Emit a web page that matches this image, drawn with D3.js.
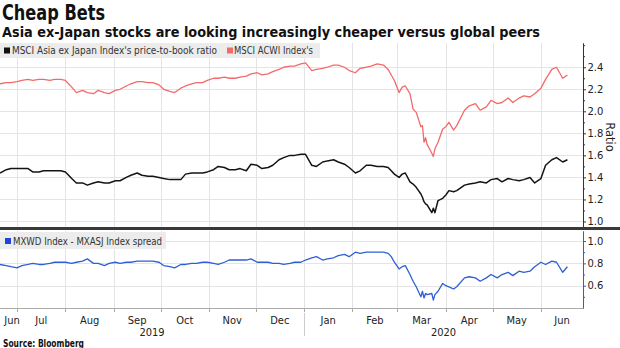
<!DOCTYPE html>
<html>
<head>
<meta charset="utf-8">
<script src="https://cdn.jsdelivr.net/npm/d3@7"></script>
<style>
  body { margin: 0; background: #fff; }
  svg { display: block; }
  text { font-family: "DejaVu Sans Condensed", "DejaVu Sans", sans-serif; fill: #222; }
</style>
</head>
<body>
<script>
// dates sampled twice a week, daily-ish through the March sell-off
const dates = [
  "2019-06-20","2019-06-24","2019-06-27",
  "2019-07-01","2019-07-04","2019-07-08","2019-07-11","2019-07-15","2019-07-18","2019-07-22","2019-07-25","2019-07-29",
  "2019-08-01","2019-08-05","2019-08-08","2019-08-12","2019-08-15","2019-08-19","2019-08-22","2019-08-26","2019-08-29",
  "2019-09-02","2019-09-05","2019-09-09","2019-09-12","2019-09-16","2019-09-19","2019-09-23","2019-09-26","2019-09-30",
  "2019-10-03","2019-10-07","2019-10-10","2019-10-14","2019-10-17","2019-10-21","2019-10-24","2019-10-28","2019-10-31",
  "2019-11-04","2019-11-07","2019-11-11","2019-11-14","2019-11-18","2019-11-21","2019-11-25","2019-11-28",
  "2019-12-02","2019-12-05","2019-12-09","2019-12-12","2019-12-16","2019-12-19","2019-12-23","2019-12-26","2019-12-30",
  "2020-01-02","2020-01-06","2020-01-09","2020-01-13","2020-01-16","2020-01-20","2020-01-23","2020-01-27","2020-01-30",
  "2020-02-03","2020-02-06","2020-02-10","2020-02-13","2020-02-17","2020-02-21","2020-02-24","2020-02-26","2020-02-28",
  "2020-03-02","2020-03-04","2020-03-06","2020-03-09","2020-03-11","2020-03-13","2020-03-16","2020-03-17","2020-03-18",
  "2020-03-19","2020-03-20","2020-03-23","2020-03-24","2020-03-25","2020-03-27","2020-03-30",
  "2020-04-01","2020-04-03","2020-04-06","2020-04-08","2020-04-13","2020-04-16","2020-04-20","2020-04-23","2020-04-27","2020-04-30",
  "2020-05-04","2020-05-07","2020-05-11","2020-05-14","2020-05-18","2020-05-21","2020-05-25","2020-05-28",
  "2020-06-01","2020-06-04","2020-06-08","2020-06-11","2020-06-15","2020-06-18"
];

// MSCI ACWI price-to-book
const acwiPB = [
  2.25, 2.26, 2.26,
  2.27, 2.28, 2.29, 2.28, 2.29, 2.29, 2.28, 2.29, 2.29,
  2.28, 2.22, 2.17, 2.19, 2.17, 2.16, 2.19, 2.17, 2.16,
  2.19, 2.20, 2.23, 2.25, 2.27, 2.27, 2.26, 2.26, 2.24,
  2.20, 2.18, 2.17, 2.21, 2.23, 2.25, 2.26, 2.26, 2.28,
  2.30, 2.30, 2.31, 2.30, 2.30, 2.31, 2.32, 2.34,
  2.35, 2.33, 2.34, 2.36, 2.38, 2.40, 2.41, 2.41, 2.43,
  2.44, 2.37, 2.38, 2.39, 2.40, 2.42, 2.42, 2.40, 2.37,
  2.35, 2.39, 2.40, 2.41, 2.43, 2.42, 2.38, 2.33, 2.28,
  2.17, 2.22, 2.23, 2.16, 2.02, 1.99, 1.86, 1.87, 1.72,
  1.76, 1.70, 1.62, 1.59, 1.66, 1.72, 1.84,
  1.86, 1.90, 1.83, 1.87, 2.01, 2.05, 2.07, 2.01, 2.04, 2.10,
  2.07, 2.08, 2.12, 2.08, 2.12, 2.14, 2.13, 2.16,
  2.21, 2.29, 2.38, 2.40, 2.30, 2.33
];

// MSCI Asia ex Japan price-to-book
const asiaPB = [
  1.44, 1.47, 1.48,
  1.48, 1.48, 1.48, 1.45, 1.45, 1.46, 1.46, 1.46, 1.46,
  1.45, 1.39, 1.35, 1.35, 1.33, 1.35, 1.36, 1.35, 1.35,
  1.37, 1.37, 1.40, 1.42, 1.44, 1.42, 1.41, 1.41, 1.40,
  1.39, 1.38, 1.38, 1.38, 1.43, 1.44, 1.44, 1.44, 1.45,
  1.47, 1.50, 1.49, 1.47, 1.47, 1.48, 1.46, 1.52,
  1.51, 1.48, 1.49, 1.51, 1.56, 1.58, 1.60, 1.60, 1.61,
  1.61, 1.51, 1.50, 1.54, 1.55, 1.56, 1.54, 1.52, 1.49,
  1.44, 1.46, 1.51, 1.51, 1.50, 1.50, 1.49, 1.46, 1.43,
  1.40, 1.43, 1.44, 1.36, 1.34, 1.31, 1.25, 1.22, 1.18,
  1.16, 1.15, 1.08, 1.12, 1.08, 1.19, 1.21,
  1.24, 1.28, 1.27, 1.28, 1.33, 1.34, 1.35, 1.36, 1.35, 1.38,
  1.39, 1.36, 1.39, 1.38, 1.37, 1.38, 1.40, 1.35,
  1.39, 1.51, 1.56, 1.58, 1.54, 1.56
];

// MXWD - MXASJ spread
const spread = [
  0.79, 0.78, 0.77,
  0.76, 0.78, 0.79, 0.80, 0.79, 0.79, 0.80, 0.81, 0.81,
  0.81, 0.80, 0.81, 0.82, 0.84, 0.80, 0.80, 0.78, 0.80,
  0.81, 0.80, 0.81, 0.81, 0.82, 0.82, 0.82, 0.82, 0.81,
  0.78, 0.77, 0.76, 0.79, 0.79, 0.80, 0.80, 0.81, 0.81,
  0.80, 0.79, 0.81, 0.83, 0.83, 0.83, 0.83, 0.84,
  0.81, 0.81, 0.81, 0.80, 0.80, 0.79, 0.80, 0.81, 0.81,
  0.83, 0.85, 0.86, 0.83, 0.84, 0.85, 0.87, 0.88, 0.86,
  0.90, 0.89, 0.90, 0.90, 0.90, 0.90, 0.89, 0.86, 0.81,
  0.75, 0.77, 0.78, 0.70, 0.64, 0.59, 0.50, 0.55, 0.49,
  0.53, 0.52, 0.53, 0.47, 0.52, 0.55, 0.62,
  0.60, 0.59, 0.57, 0.59, 0.67, 0.68, 0.67, 0.64, 0.67, 0.70,
  0.67, 0.70, 0.72, 0.69, 0.73, 0.72, 0.73, 0.77,
  0.81, 0.79, 0.82, 0.81, 0.72, 0.77
];

const topTicks = [1.0, 1.2, 1.4, 1.6, 1.8, 2.0, 2.2, 2.4];
const topMinor = [1.1, 1.3, 1.5, 1.7, 1.9, 2.1, 2.3, 2.5, 2.6];
const botTicks = [0.6, 0.8, 1.0];
const botMinor = [0.5, 0.7, 0.9];
const years = ["2019", "2020"];

const title = "Cheap Bets";
const subtitle = "Asia ex-Japan stocks are looking increasingly cheaper versus global peers";
const source = "Source: Bloomberg";

// layout
const width = 620, height = 348;
const plotRight = 583;
const top1 = 43, bot1 = 227, top2 = 231, bot2 = 308;

const parse = d3.timeParse("%Y-%m-%d");
const days = dates.map(parse);
const start = parse("2019-06-20"), end = parse("2020-06-28");

const x = d3.scaleTime().domain([start, end]).range([0, plotRight]);
const yTop = d3.scaleLinear().domain([0.95, 2.62]).range([bot1, top1]);
const yBot = d3.scaleLinear().domain([0.40, 1.09]).range([bot2, top2]);

const svg = d3.select("body").append("svg")
  .attr("width", width)
  .attr("height", height);

// squeeze a text node into a given width
function fit(sel, w) {
  sel.attr("textLength", w).attr("lengthAdjust", "spacingAndGlyphs");
  return sel;
}

// titles
fit(svg.append("text").attr("x", 2).attr("y", 20)
  .style("font-family", "'DejaVu Sans', sans-serif")
  .style("font-weight", "bold").style("font-size", "21px").style("fill", "#111")
  .text(title), 103);
fit(svg.append("text").attr("x", 2).attr("y", 37)
  .style("font-family", "'DejaVu Sans', sans-serif")
  .style("font-weight", "bold").style("font-size", "14.5px").style("fill", "#111")
  .text(subtitle), 538);

// gridlines
const monthStarts = d3.timeMonth.range(d3.timeMonth.ceil(start), end);
const grid = svg.append("g").attr("stroke", "#e4e4e4").attr("stroke-width", 1);
[[top1, bot1], [top2, bot2]].forEach(([a, b]) => {
  grid.selectAll(null).data(monthStarts).enter().append("line")
    .attr("x1", d => Math.round(x(d)) + 0.5).attr("x2", d => Math.round(x(d)) + 0.5)
    .attr("y1", a).attr("y2", b);
});
grid.selectAll(null).data(topTicks).enter().append("line")
  .attr("x1", 0).attr("x2", plotRight)
  .attr("y1", d => Math.round(yTop(d)) + 0.5).attr("y2", d => Math.round(yTop(d)) + 0.5);
grid.selectAll(null).data(botTicks).enter().append("line")
  .attr("x1", 0).attr("x2", plotRight)
  .attr("y1", d => Math.round(yBot(d)) + 0.5).attr("y2", d => Math.round(yBot(d)) + 0.5);

// series lines
const lineTop = d3.line().x((d, i) => x(days[i])).y(d => yTop(d));
const lineBot = d3.line().x((d, i) => x(days[i])).y(d => yBot(d));
svg.append("path").datum(acwiPB)
  .attr("d", lineTop).attr("fill", "none")
  .attr("stroke", "#f36a6a").attr("stroke-width", 1.3).attr("stroke-linejoin", "round");
svg.append("path").datum(asiaPB)
  .attr("d", lineTop).attr("fill", "none")
  .attr("stroke", "#141414").attr("stroke-width", 1.5).attr("stroke-linejoin", "round");
svg.append("path").datum(spread)
  .attr("d", lineBot).attr("fill", "none")
  .attr("stroke", "#2f5fd6").attr("stroke-width", 1.3).attr("stroke-linejoin", "round");

// right axes
function styleAxis(g, color) {
  g.select(".domain").attr("stroke", color);
  g.selectAll(".tick line").attr("stroke", color);
  g.selectAll(".tick text").style("font-size", "10px").style("fill", "#222")
    .style("font-family", "'DejaVu Sans', sans-serif");
}
const axTop = svg.append("g").attr("transform", `translate(${plotRight},0)`)
  .call(d3.axisRight(yTop).tickValues(topTicks).tickSize(3).tickSizeOuter(0).tickPadding(1.5).tickFormat(d3.format(".1f")));
styleAxis(axTop, "#333");
const axTopMinor = svg.append("g").attr("transform", `translate(${plotRight},0)`)
  .call(d3.axisRight(yTop).tickValues(topMinor).tickSize(2).tickSizeOuter(0).tickFormat(""));
styleAxis(axTopMinor, "#333");

const axBot = svg.append("g").attr("transform", `translate(${plotRight},0)`)
  .call(d3.axisRight(yBot).tickValues(botTicks).tickSize(3).tickSizeOuter(0).tickPadding(1.5).tickFormat(d3.format(".1f")));
styleAxis(axBot, "#2f5fd6");
const axBotMinor = svg.append("g").attr("transform", `translate(${plotRight},0)`)
  .call(d3.axisRight(yBot).tickValues(botMinor).tickSize(2).tickSizeOuter(0).tickFormat(""));
styleAxis(axBotMinor, "#2f5fd6");

svg.append("text")
  .attr("transform", `translate(606,${(top1 + bot1) / 2 + 2}) rotate(90)`)
  .attr("text-anchor", "middle")
  .style("font-family", "'DejaVu Sans', sans-serif")
  .style("font-size", "11.5px")
  .text("Ratio");

// time axis
svg.append("line").attr("x1", 0).attr("x2", plotRight)
  .attr("y1", bot2 + 0.5).attr("y2", bot2 + 0.5).attr("stroke", "#aaa");
svg.append("g").selectAll("line").data(monthStarts).enter().append("line")
  .attr("x1", d => Math.round(x(d)) + 0.5).attr("x2", d => Math.round(x(d)) + 0.5)
  .attr("y1", bot2).attr("y2", bot2 + 4).attr("stroke", "#aaa");

const monthFmt = d3.timeFormat("%b");
const monthSpans = [d3.timeMonth.floor(start), ...monthStarts];
svg.append("g").selectAll("text").data(monthSpans).enter().append("text")
  .attr("x", d => {
    const a = Math.max(x(d), 0);
    const b = Math.min(x(d3.timeMonth.offset(d, 1)), plotRight);
    return Math.max((a + b) / 2, 12);
  })
  .attr("y", 324)
  .attr("text-anchor", "middle")
  .style("font-size", "11px")
  .text(monthFmt);

const yearBreak = parse("2020-01-01");
svg.append("line")
  .attr("x1", Math.round(x(yearBreak)) + 0.5).attr("x2", Math.round(x(yearBreak)) + 0.5)
  .attr("y1", 313).attr("y2", 336).attr("stroke", "#ccc");
const yearSpans = [[0, x(yearBreak)], [x(yearBreak), plotRight]];
svg.append("g").selectAll("text").data(years).enter().append("text")
  .attr("x", (d, i) => (yearSpans[i][0] + yearSpans[i][1]) / 2)
  .attr("y", 336)
  .attr("text-anchor", "middle")
  .style("font-size", "11px")
  .text(d => d);

// panel divider
svg.append("rect").attr("x", 0).attr("y", bot1).attr("width", width).attr("height", 3)
  .attr("fill", "#3a3a3a");

// legends
const leg1 = svg.append("g");
leg1.append("rect").attr("x", 0).attr("y", top1).attr("width", 320).attr("height", 15).attr("fill", "#ececec");
leg1.append("rect").attr("x", 4).attr("y", top1 + 4.5).attr("width", 6).attr("height", 6).attr("fill", "#111");
fit(leg1.append("text").attr("x", 12).attr("y", top1 + 11).style("font-size", "10px").style("fill", "#333")
  .text("MSCI Asia ex Japan Index's price-to-book ratio"), 205);
leg1.append("rect").attr("x", 227).attr("y", top1 + 4.5).attr("width", 6).attr("height", 6).attr("fill", "#f36a6a");
fit(leg1.append("text").attr("x", 234).attr("y", top1 + 11).style("font-size", "10px").style("fill", "#333")
  .text("MSCI ACWI Index's"), 79);

const leg2 = svg.append("g");
leg2.append("rect").attr("x", 0).attr("y", top2 + 1).attr("width", 166).attr("height", 17).attr("fill", "#ececec");
leg2.append("rect").attr("x", 5).attr("y", top2 + 7).attr("width", 6).attr("height", 6).attr("fill", "#1f45d8");
fit(leg2.append("text").attr("x", 13).attr("y", top2 + 13.5).style("font-size", "10px").style("fill", "#333")
  .text("MXWD Index - MXASJ Index spread"), 149);

// footer
fit(svg.append("text").attr("x", 3).attr("y", 347)
  .style("font-family", "'DejaVu Sans', sans-serif")
  .style("font-weight", "bold").style("font-size", "10px").style("fill", "#111")
  .text(source), 81);
</script>
</body>
</html>
